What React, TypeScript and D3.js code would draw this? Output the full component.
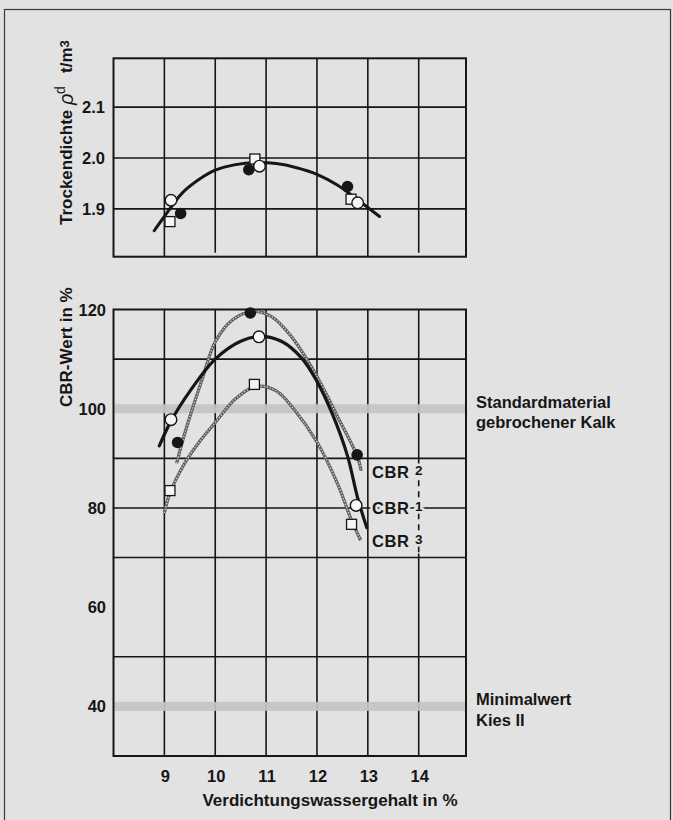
import * as d3 from "d3";

// x axis: water content in %
const xTicks = [9, 10, 11, 12, 13, 14];

// top panel: dry density t/m3
const densityTicks = [1.9, 2.0, 2.1];
const densityCurve: [number, number][] = [
  [8.8, 1.857], [9.0, 1.885], [9.35, 1.931], [9.7, 1.959], [10.0, 1.976], [10.4, 1.987],
  [10.8, 1.991], [11.2, 1.989], [11.6, 1.981], [12.0, 1.968], [12.4, 1.947], [12.8, 1.918], [13.23, 1.885],
];
const densityFilled: [number, number][] = [[9.32, 1.891], [10.66, 1.977], [12.6, 1.944]];
const densityOpen: [number, number][] = [[9.13, 1.917], [10.87, 1.984], [12.8, 1.912]];
const densitySquare: [number, number][] = [[9.11, 1.875], [10.78, 1.998], [12.67, 1.919]];

// bottom panel: CBR value in %
const cbrTicks = [40, 60, 80, 100, 120];
const cbrGrid = [50, 70, 80, 90, 110];
const cbrBands = [100, 40];
const cbr1: [number, number][] = [
  [8.9, 92.5], [9.13, 97.5], [9.5, 103.5], [10.0, 110], [10.5, 113.6], [10.9, 114.6], [11.3, 113.6],
  [11.7, 110.2], [12.0, 105.5], [12.3, 99], [12.6, 90.5], [12.8, 82], [12.98, 76],
];
const cbr2: [number, number][] = [
  [9.24, 89], [9.4, 95], [9.76, 106.5], [10.0, 113.5], [10.35, 118], [10.75, 119.6], [11.1, 118.6],
  [11.5, 114.5], [12.0, 106.5], [12.4, 98.5], [12.79, 90.5], [12.87, 87.5],
];
const cbr3: [number, number][] = [
  [9.0, 79], [9.11, 83], [9.4, 89], [9.7, 93.5], [10.0, 97.2], [10.4, 102], [10.8, 104.5],
  [11.2, 103.6], [11.54, 100], [12.0, 93.3], [12.4, 85], [12.68, 77.5], [12.86, 73.5],
];
const cbrFilled: [number, number][] = [[9.26, 93.2], [10.69, 119.3], [12.79, 90.7]];
const cbrOpen: [number, number][] = [[9.13, 97.8], [10.86, 114.5], [12.77, 80.5]];
const cbrSquare: [number, number][] = [[9.11, 83.5], [10.77, 104.9], [12.68, 76.7]];

const cbrLabels = [
  { name: "CBR", num: "2", v: 87.2 },
  { name: "CBR", num: "1", v: 80 },
  { name: "CBR", num: "3", v: 73.3 },
];
const refLabels = [
  { v: 100, lines: ["Standardmaterial", "gebrochener Kalk"] },
  { v: 40, lines: ["Minimalwert", "Kies II"] },
];

const BG = "#e2e2e2";
const INK = "#161616";
const FONT = "'Liberation Sans', Arial, sans-serif";

export default function App() {
  const x = d3.scaleLinear().domain([8, 14.93]).range([113.5, 466]);
  const yD = d3.scaleLinear().domain([1.806, 2.196]).range([256.7, 58.3]);
  const yC = d3.scaleLinear().domain([30, 120]).range([756, 309.5]);

  const curve = d3.curveCatmullRom.alpha(0.5);
  const lineD = d3.line<[number, number]>().x((d) => x(d[0])).y((d) => yD(d[1])).curve(curve);
  const lineC = d3.line<[number, number]>().x((d) => x(d[0])).y((d) => yC(d[1])).curve(curve);

  const [x0, x1] = x.range();
  const markers = (
    y: d3.ScaleLinear<number, number>,
    filled: [number, number][],
    open: [number, number][],
    square: [number, number][],
    k: string,
  ) => (
    <g>
      {filled.map((d, i) => (
        <circle key={`${k}f${i}`} cx={x(d[0])} cy={y(d[1])} r={5.8} fill={INK} />
      ))}
      {square.map((d, i) => (
        <rect key={`${k}s${i}`} x={x(d[0]) - 5} y={y(d[1]) - 5} width={10} height={10} fill="#f6f6f6" stroke={INK} strokeWidth={1.3} />
      ))}
      {open.map((d, i) => (
        <circle key={`${k}o${i}`} cx={x(d[0])} cy={y(d[1])} r={5.8} fill="#f6f6f6" stroke={INK} strokeWidth={1.4} />
      ))}
    </g>
  );

  const beads = (d: string, k: string) => (
    <g key={k}>
      <path d={d} fill="none" stroke="#5e5e5e" strokeWidth={3.2} />
      <path d={d} fill="none" stroke="#d8d8d8" strokeWidth={1.3} strokeDasharray="1.3 1.7" />
    </g>
  );

  const knock = { stroke: BG, strokeWidth: 5, paintOrder: "stroke" as const, strokeLinejoin: "round" as const };

  return (
    <svg width={673} height={820} style={{ position: "absolute", left: 0, top: 0, background: BG }} fontFamily={FONT}>
      <rect x={0} y={0} width={673} height={820} fill={BG} />
      <rect x={4.5} y={9.5} width={666} height={900} fill="none" stroke="#3a3a3a" strokeWidth={1.2} />

      {/* top panel: dry density */}
      <g>
        {densityTicks.map((t) => (
          <line key={`dg${t}`} x1={x0} x2={x1} y1={yD(t)} y2={yD(t)} stroke={INK} strokeWidth={1.6} />
        ))}
        {xTicks.map((t) => (
          <line key={`dv${t}`} x1={x(t)} x2={x(t)} y1={yD.range()[1]} y2={yD.range()[0] - (t === 10 || t === 14 ? 4 : 0)} stroke={INK} strokeWidth={1.6} />
        ))}
        <rect x={x0} y={yD.range()[1]} width={x1 - x0} height={yD.range()[0] - yD.range()[1]} fill="none" stroke={INK} strokeWidth={2} />
        <path d={lineD(densityCurve) ?? ""} fill="none" stroke={INK} strokeWidth={3} strokeLinecap="round" />
        {markers(yD, densityFilled, densityOpen, densitySquare, "d")}
        {densityTicks.map((t) => (
          <text key={`dl${t}`} x={105} y={yD(t) + 6} textAnchor="end" fontSize={16.5} fontWeight="bold" fill={INK}>
            {t.toFixed(1)}
          </text>
        ))}
        <text transform="translate(71.5,225) rotate(-90)" fontSize={17} fontWeight="bold" fill={INK}>Trockendichte</text>
        <text transform="translate(73,105) rotate(-90)" fontSize={20} fontStyle="italic" fill={INK}>ρ</text>
        <text transform="translate(65,94) rotate(-90)" fontSize={14} fill={INK}>d</text>
        <text transform="translate(71.5,73) rotate(-90)" fontSize={17} fontWeight="bold" fill={INK}>
          t/m<tspan fontSize={13} dy={-3}>3</tspan>
        </text>
      </g>

      {/* bottom panel: CBR */}
      <g>
        {cbrGrid.map((t) => (
          <line key={`cg${t}`} x1={x0} x2={x1} y1={yC(t)} y2={yC(t)} stroke={INK} strokeWidth={1.6} />
        ))}
        {xTicks.map((t) =>
          t === 14 ? (
            <g key={`cv${t}`}>
              <line x1={x(t)} x2={x(t)} y1={yC(120)} y2={yC(90)} stroke={INK} strokeWidth={1.6} />
              <line x1={x(t)} x2={x(t)} y1={yC(90)} y2={yC(71)} stroke={INK} strokeWidth={1.6} strokeDasharray="6 5" />
              <line x1={x(t)} x2={x(t)} y1={yC(70.8)} y2={yC(30)} stroke={INK} strokeWidth={1.6} />
            </g>
          ) : (
            <line key={`cv${t}`} x1={x(t)} x2={x(t)} y1={yC(120)} y2={yC(30)} stroke={INK} strokeWidth={1.6} />
          ),
        )}
        {cbrBands.map((t) => (
          <rect key={`cb${t}`} x={x0 + 1} y={yC(t) - 4.5} width={x1 - x0 - 2} height={9} fill="#c4c4c4" opacity={0.92} />
        ))}
        <rect x={x0} y={yC(120)} width={x1 - x0} height={yC(30) - yC(120)} fill="none" stroke={INK} strokeWidth={2} />

        {beads(lineC(cbr3) ?? "", "c3")}
        {beads(lineC(cbr2) ?? "", "c2")}
        <path d={lineC(cbr1) ?? ""} fill="none" stroke={INK} strokeWidth={3.2} strokeLinecap="round" />
        {markers(yC, cbrFilled, cbrOpen, cbrSquare, "c")}

        {cbrTicks.map((t) => (
          <text key={`cl${t}`} x={106} y={yC(t) + 6} textAnchor="end" fontSize={16.5} fontWeight="bold" fill={INK}>
            {t}
          </text>
        ))}
        <text transform="translate(71.5,407) rotate(-90)" fontSize={17} fontWeight="bold" fill={INK}>CBR-Wert in %</text>

        {cbrLabels.map((l) => (
          <g key={l.num}>
            <text x={372} y={yC(l.v) + 6} fontSize={16.5} fontWeight="bold" letterSpacing={0.6} fill={INK} {...knock}>
              {l.name}
            </text>
            <text x={x(14)} y={yC(l.v) + 3} textAnchor="middle" fontSize={13.5} fontWeight="bold" fill={INK} {...knock}>
              {l.num}
            </text>
          </g>
        ))}

        {refLabels.map((r) =>
          r.lines.map((s, i) => (
            <text key={s} x={476} y={yC(r.v) - 1 + i * 20.5} fontSize={16.5} fontWeight="bold" fill={INK}>
              {s}
            </text>
          )),
        )}

        {xTicks.map((t) => (
          <text key={`xl${t}`} x={x(t) + 1} y={782} textAnchor="middle" fontSize={16.5} fontWeight="bold" fill={INK}>
            {t}
          </text>
        ))}
        <text x={330} y={806} textAnchor="middle" fontSize={17} fontWeight="bold" fill={INK}>
          Verdichtungswassergehalt in %
        </text>
      </g>
    </svg>
  );
}
